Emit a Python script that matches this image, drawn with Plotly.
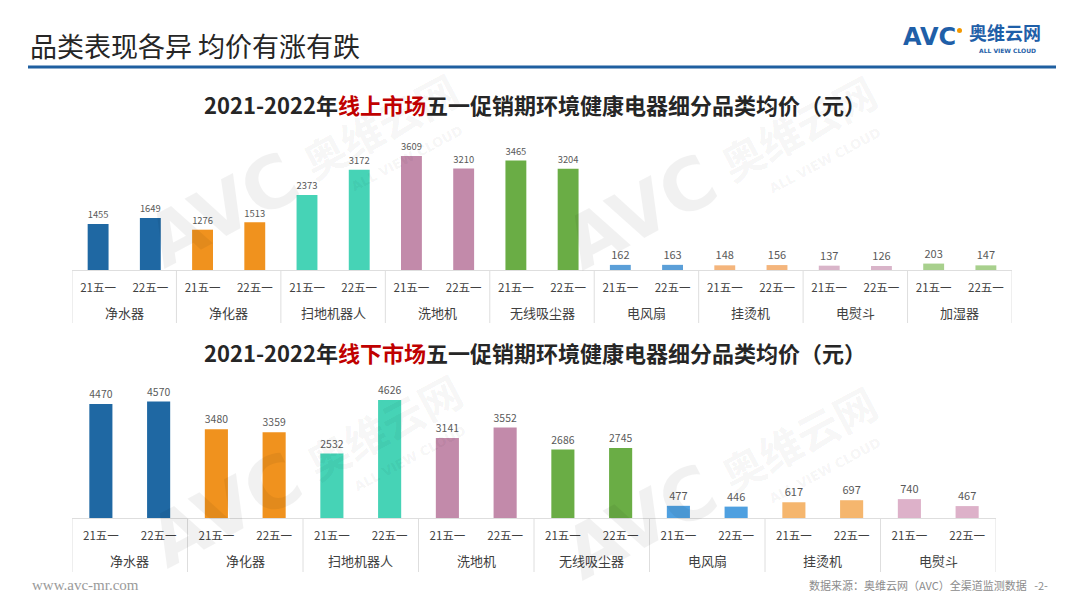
import plotly.graph_objects as go

# page body has an 8px margin: compensate so that screen pixels match the reference
OX, OY = 8, 8
W, H = 1064, 592

periods = ["21五一", "22五一"]

online_categories = ["净水器", "净化器", "扫地机器人", "洗地机", "无线吸尘器", "电风扇", "挂烫机", "电熨斗", "加湿器"]
online_21 = [1455, 1276, 2373, 3609, 3465, 162, 148, 137, 203]
online_22 = [1649, 1513, 3172, 3210, 3204, 163, 156, 126, 147]
online_colors = ["#1F68A3", "#F0921E", "#46D3B6", "#C28AAA", "#6AAD45",
                 "#5B9FD8", "#F4B57C", "#D9B4C9", "#A8D08D"]

offline_categories = ["净水器", "净化器", "扫地机器人", "洗地机", "无线吸尘器", "电风扇", "挂烫机", "电熨斗"]
offline_21 = [4470, 3480, 2532, 3141, 2686, 477, 617, 740]
offline_22 = [4570, 3359, 4626, 3552, 2745, 446, 697, 467]
offline_colors = ["#1F68A3", "#F0921E", "#46D3B6", "#C28AAA", "#6AAD45",
                  "#4FA0E0", "#F5B66E", "#DDB1C9"]

FONT = "Noto Sans CJK SC"
GRID = "#DEDEDE"


def px(x):
    return (x - OX) / W


def py(y):
    return 1 - (y - OY) / H


def build(cats, v21, v22, colors):
    xs, ys, cs, labels = [], [], [], []
    for i, (c, a, b, col) in enumerate(zip(cats, v21, v22, colors)):
        for j, v in enumerate((a, b)):
            xs.append(i * len(periods) + j)
            ys.append(v)
            cs.append(col)
            labels.append(periods[j])
    return xs, ys, cs, labels


fig = go.Figure()

charts = [
    dict(cats=online_categories, v21=online_21, v22=online_22, colors=online_colors,
         xa="x", ya="y", left=72, right=1012, top=140, base=270, rng=4116,
         group_y=312, div_bottom=323),
    dict(cats=offline_categories, v21=offline_21, v22=offline_22, colors=offline_colors,
         xa="x2", ya="y2", left=72, right=996, top=390, base=518, rng=5018,
         group_y=560, div_bottom=572),
]

annotations = []
shapes = []
layout_axes = {}

for k, ch in enumerate(charts):
    xs, ys, cs, labels = build(ch["cats"], ch["v21"], ch["v22"], ch["colors"])
    fig.add_trace(go.Bar(x=xs, y=ys, marker=dict(color=cs, line=dict(width=0)),
                         texttemplate="%{y}", textposition="outside", cliponaxis=False,
                         textfont=dict(size=11, color="#595959", family=FONT),
                         xaxis=ch["xa"], yaxis=ch["ya"], showlegend=False, hoverinfo="skip"))
    n = len(ch["cats"]) * len(periods)
    xkey = "xaxis" if k == 0 else "xaxis2"
    ykey = "yaxis" if k == 0 else "yaxis2"
    layout_axes[xkey] = dict(domain=[px(ch["left"]), px(ch["right"])], anchor=ch["ya"],
                             range=[-0.5, n - 0.5], showline=True, linecolor=GRID, linewidth=1,
                             showgrid=False, zeroline=False,
                             tickmode="array", tickvals=xs, ticktext=labels,
                             ticks="outside", ticklen=7, tickcolor="rgba(0,0,0,0)",
                             tickfont=dict(size=11.5, color="#404040", family=FONT))
    layout_axes[ykey] = dict(domain=[py(ch["base"]), py(ch["top"])], range=[0, ch["rng"]],
                             visible=False, anchor=ch["xa"])
    for i, c in enumerate(ch["cats"]):
        annotations.append(dict(x=i * 2 + 0.5, y=py(ch["group_y"]), xref=ch["xa"], yref="paper",
                                xanchor="center", yanchor="middle", text=c, showarrow=False,
                                font=dict(size=13, color="#404040", family=FONT)))
    for i in range(len(ch["cats"]) + 1):
        shapes.append(dict(type="line", xref=ch["xa"], yref="paper", x0=i * 2 - 0.5, x1=i * 2 - 0.5,
                           y0=py(ch["base"]), y1=py(ch["div_bottom"]),
                           line=dict(color=GRID, width=1)))

fig.update_layout(
    width=W, height=H,
    margin=dict(l=0, r=0, t=0, b=0),
    paper_bgcolor="white", plot_bgcolor="rgba(0,0,0,0)",
    bargap=0.6,
    font=dict(family=FONT),
    **layout_axes,
)

# faint watermarks (AVC logo tiles)
WM = "rgba(0,0,0,0.055)"
for (ax_, ay_) in [(222, 210), (640, 212), (225, 510), (640, 522)]:
    annotations.append(dict(x=px(ax_), y=py(ay_), xref="paper", yref="paper", xanchor="center",
                            yanchor="middle", text="<b>AVC</b>", showarrow=False, textangle=-28,
                            font=dict(size=72, color=WM, family="DejaVu Sans")))
    annotations.append(dict(x=px(ax_ + 158), y=py(ay_ - 85), xref="paper", yref="paper",
                            xanchor="center", yanchor="middle", text="<b>奥维云网</b>", showarrow=False,
                            textangle=-28, font=dict(size=42, color=WM, family=FONT)))
    annotations.append(dict(x=px(ax_ + 185), y=py(ay_ - 52), xref="paper", yref="paper",
                            xanchor="center", yanchor="middle", text="<b>ALL VIEW CLOUD</b>",
                            showarrow=False, textangle=-28,
                            font=dict(size=13, color=WM, family="DejaVu Sans")))

# header
annotations.append(dict(x=px(28), y=py(45), xref="paper", yref="paper", xanchor="left", yanchor="middle",
                        text="品类表现各异 均价有涨有跌", showarrow=False,
                        font=dict(size=27, color="#262626", family=FONT)))
# logo
annotations.append(dict(x=px(929), y=py(37), xref="paper", yref="paper", xanchor="center", yanchor="middle",
                        text="<b>AVC</b>", showarrow=False,
                        font=dict(size=24, color="#1F5FA8", family="DejaVu Sans")))
annotations.append(dict(x=px(1005), y=py(32), xref="paper", yref="paper", xanchor="center", yanchor="middle",
                        text="<b>奥维云网</b>", showarrow=False,
                        font=dict(size=18, color="#1F5FA8", family=FONT)))
annotations.append(dict(x=px(1007), y=py(51), xref="paper", yref="paper", xanchor="center", yanchor="middle",
                        text="<b>ALL VIEW CLOUD</b>", showarrow=False,
                        font=dict(size=6, color="#1F5FA8", family="DejaVu Sans")))
shapes.append(dict(type="circle", xref="paper", yref="paper", x0=px(957), x1=px(962),
                   y0=py(33), y1=py(28), fillcolor="#F39800", line=dict(width=0)))
# chart titles
for ty, word in [(104, "线上市场"), (352, "线下市场")]:
    annotations.append(dict(x=px(535), y=py(ty), xref="paper", yref="paper", xanchor="center", yanchor="middle",
                            text="<b>2021-2022年<span style='color:#C00000'>" + word +
                                 "</span>五一促销期环境健康电器细分品类均价（元）</b>",
                            showarrow=False, font=dict(size=22, color="#262626", family=FONT)))
# footer
annotations.append(dict(x=px(30), y=py(585), xref="paper", yref="paper", xanchor="left", yanchor="middle",
                        text="www.avc-mr.com", showarrow=False,
                        font=dict(size=15, color="#9A9A9A", family="Liberation Serif")))
annotations.append(dict(x=px(1050), y=py(585), xref="paper", yref="paper", xanchor="right", yanchor="middle",
                        text="数据来源：奥维云网（AVC）全渠道监测数据   -2-", showarrow=False,
                        font=dict(size=11, color="#8C8C8C", family=FONT)))

shapes.append(dict(type="line", xref="paper", yref="paper", x0=px(28), x1=px(1056),
                   y0=py(67), y1=py(67), line=dict(color="#1F5FA0", width=3)))

fig.update_layout(annotations=annotations, shapes=shapes)

fig.write_html("out.html")
